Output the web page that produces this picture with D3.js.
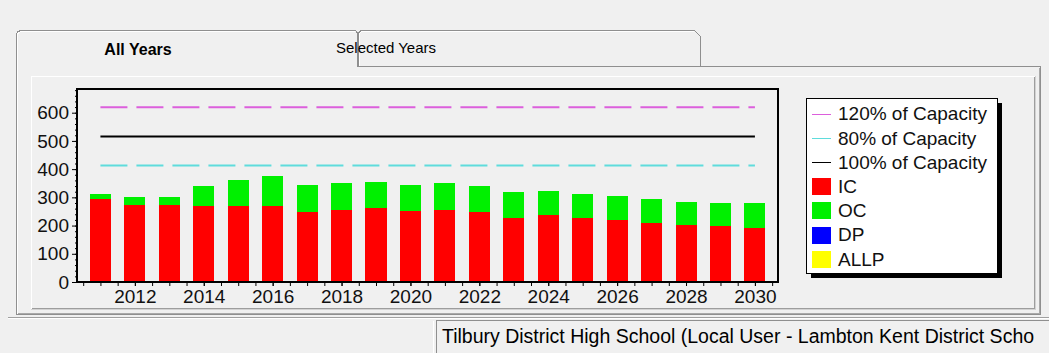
<!DOCTYPE html>
<html>
<head>
<meta charset="utf-8">
<script src="https://cdn.jsdelivr.net/npm/d3@7"></script>
<style>
  html, body { margin: 0; padding: 0; background: #f0f0f0; }
  svg { display: block; font-family: "Liberation Sans", Arial, sans-serif; }
</style>
</head>
<body>
<svg id="chart" width="1049" height="353"></svg>
<script>
// Enrolment projection by year
const years = [2011, 2012, 2013, 2014, 2015, 2016, 2017, 2018, 2019, 2020,
               2021, 2022, 2023, 2024, 2025, 2026, 2027, 2028, 2029, 2030];
const icValues   = [295, 274, 274, 268, 268, 268, 247, 256, 263, 253,
                    256, 247, 226, 236, 226, 219, 208, 203, 198, 193];
const ocValues   = [17, 27, 27, 71, 92, 107, 97, 95, 93, 91,
                    95, 92, 92, 88, 86, 87, 87, 82, 81, 86];
const dpValues   = [0, 0, 0, 0, 0, 0, 0, 0, 0, 0, 0, 0, 0, 0, 0, 0, 0, 0, 0, 0];
const allpValues = [0, 0, 0, 0, 0, 0, 0, 0, 0, 0, 0, 0, 0, 0, 0, 0, 0, 0, 0, 0];
const capacity = 516;
const yTicks = [0, 100, 200, 300, 400, 500, 600];
const xTickYears = [2012, 2014, 2016, 2018, 2020, 2022, 2024, 2026, 2028, 2030];
const tabLabels = ["All Years", "Selected Years"];
const statusText = "Tilbury District High School (Local User - Lambton Kent District Scho";

const seriesKeys = ["IC", "OC", "DP", "ALLP"];
const seriesColors = { IC: "#ff0000", OC: "#00f000", DP: "#0000ff", ALLP: "#ffff00" };
const capLines = [
  { label: "120% of Capacity", value: capacity * 1.2, color: "#dc5fdc", dash: "27,9" },
  { label: "80% of Capacity",  value: capacity * 0.8, color: "#5fdcdc", dash: "27,9" },
  { label: "100% of Capacity", value: capacity,       color: "#000000", dash: null }
];

const rows = years.map((yr, i) => ({
  year: yr, IC: icValues[i], OC: ocValues[i], DP: dpValues[i], ALLP: allpValues[i]
}));

const svg = d3.select("#chart");

// ---- window chrome: tabs, panels, status bar ----
const chrome = svg.append("g").attr("fill", "none").attr("shape-rendering", "crispEdges");

// tab panel body
chrome.append("rect").attr("x", 16.5).attr("y", 66.5).attr("width", 1024).attr("height", 248)
  .attr("fill", "#f0f0f0").attr("stroke", "none");
// panel outer edges
chrome.append("path").attr("d", "M16.5,314.5 V36 Q16.5,30.5 22,30.5 H355.5 L357.5,33 V66.5 H1040.5 V314.5 Z")
  .attr("stroke", "#8f8f8f");
chrome.append("path").attr("d", "M17.5,313.5 H1039.5 V67.5").attr("stroke", "#a9a9a9");
chrome.append("path").attr("d", "M17.5,313.5 V36 Q17.5,31.5 22,31.5 H354.5").attr("stroke", "#ffffff");
// inactive tab
chrome.append("path").attr("d", "M358.5,66.5 V33 L361,30.5 H694.5 L700.5,36.5 V66.5")
  .attr("stroke", "#8f8f8f").attr("fill", "#f0f0f0");
chrome.append("path").attr("d", "M359.5,66 V33.5 L361.5,31.5 H694").attr("stroke", "#ffffff");
chrome.append("path").attr("d", "M358.5,66.5 H1040.5").attr("stroke", "#8f8f8f");

// inner chart panel (bevelled)
chrome.append("path").attr("d", "M31.5,308.5 V76.5 H1034.5").attr("stroke", "#ffffff");
chrome.append("path").attr("d", "M31.5,308.5 H1034.5 V76.5").attr("stroke", "#9d9d9d");
chrome.append("path").attr("d", "M30.5,309.5 H1035.5 V75.5").attr("stroke", "#d2d2d2");

// status bar
chrome.append("path").attr("d", "M7.5,317.5 H1049").attr("stroke", "#a0a0a0");
chrome.append("path").attr("d", "M7.5,318.5 H1049").attr("stroke", "#ffffff");
chrome.append("path").attr("d", "M436.5,353 V320.5 H1049").attr("stroke", "#8f8f8f");
chrome.append("path").attr("d", "M433.5,353 V320.5").attr("stroke", "#ffffff");

svg.append("text").attr("x", 138).attr("y", 55).attr("text-anchor", "middle")
  .attr("font-size", 16).attr("font-weight", "bold").attr("fill", "#000")
  .text(tabLabels[0]);
svg.append("text").attr("x", 386).attr("y", 53).attr("text-anchor", "middle")
  .attr("font-size", 15).attr("fill", "#000")
  .text(tabLabels[1]);
svg.append("text").attr("x", 442).attr("y", 343)
  .attr("font-size", 19.5).attr("fill", "#000")
  .text(statusText);

// ---- plot ----
const plot = { left: 77, right: 778, top: 89, bottom: 282 };
const x = d3.scaleLinear().domain([2010.32, 2030.67]).range([plot.left, plot.right]);
const y = d3.scaleLinear().domain([0, 684]).range([plot.bottom, plot.top]);
const step = x(2012) - x(2011);
const barW = step * 0.61;

const stack = d3.stack().keys(seriesKeys)(rows);

const barsG = svg.append("g").attr("shape-rendering", "crispEdges");
barsG.selectAll("g.layer").data(stack).join("g")
  .attr("class", "layer")
  .attr("fill", d => seriesColors[d.key])
  .selectAll("rect")
  .data(d => d.filter(p => p[1] > p[0]))
  .join("rect")
  .attr("x", d => x(d.data.year) - barW / 2)
  .attr("width", barW)
  .attr("y", d => y(d[1]))
  .attr("height", d => y(d[0]) - y(d[1]));

// capacity reference lines, spanning first to last year
const line = d3.line().x(d => x(d[0])).y(d => y(d[1]));
svg.append("g").selectAll("path").data(capLines).join("path")
  .attr("d", d => line([[years[0], d.value], [years[years.length - 1], d.value]]))
  .attr("stroke", d => d.color)
  .attr("stroke-width", 2)
  .attr("stroke-dasharray", d => d.dash)
  .attr("fill", "none");

// axes
const yAxis = d3.axisLeft(y).tickValues(yTicks).tickSize(5).tickPadding(3);
const yMinor = d3.axisLeft(y).tickValues(d3.range(0, 681, 20)).tickSize(2).tickFormat("");
const xAxis = d3.axisBottom(x).tickValues(xTickYears).tickSize(4).tickPadding(4).tickFormat(d3.format("d"));
const xMinor = d3.axisBottom(x).tickValues(d3.range(2010.5, 2031, 0.5)).tickSize(4).tickFormat("");

function styleAxis(g) {
  g.select(".domain").remove();
  g.selectAll(".tick line").attr("stroke", "#000");
  g.selectAll(".tick text").attr("font-size", 19).attr("fill", "#111")
    .attr("font-family", "\"Liberation Sans\", Arial, sans-serif");
}
svg.append("g").attr("transform", `translate(${plot.left},0)`).call(yMinor).call(styleAxis);
svg.append("g").attr("transform", `translate(${plot.left},0)`).call(yAxis).call(styleAxis);
svg.append("g").attr("transform", `translate(0,${plot.bottom})`).call(xMinor).call(styleAxis);
svg.append("g").attr("transform", `translate(0,${plot.bottom})`).call(xAxis).call(styleAxis);

// plot frame
svg.append("rect")
  .attr("x", plot.left).attr("y", plot.top)
  .attr("width", plot.right - plot.left).attr("height", plot.bottom - plot.top)
  .attr("fill", "none").attr("stroke", "#000").attr("stroke-width", 2);

// ---- legend ----
const lg = { x: 806, y: 98, w: 191, h: 175, shadow: 5 };
const legend = svg.append("g").attr("shape-rendering", "crispEdges");
legend.append("rect").attr("x", lg.x + lg.shadow).attr("y", lg.y + lg.shadow)
  .attr("width", lg.w).attr("height", lg.h).attr("fill", "#000");
legend.append("rect").attr("x", lg.x + 0.5).attr("y", lg.y + 0.5)
  .attr("width", lg.w).attr("height", lg.h).attr("fill", "#fff").attr("stroke", "#000");

const legendItems = capLines.map(d => ({ label: d.label, color: d.color, kind: "line" }))
  .concat(seriesKeys.map(k => ({ label: k, color: seriesColors[k], kind: "box" })));
const rowY = i => 113.5 + i * 24.2;
const items = legend.selectAll("g.item").data(legendItems).join("g").attr("class", "item");
items.filter(d => d.kind === "line").append("line")
  .attr("x1", 812).attr("x2", 831)
  .attr("y1", (d, i) => Math.round(rowY(i)) + 0.5).attr("y2", (d, i) => Math.round(rowY(i)) + 0.5)
  .attr("stroke", d => d.color);
items.filter(d => d.kind === "box").append("rect")
  .attr("x", 812).attr("width", 19)
  .attr("y", d => rowY(legendItems.indexOf(d)) - 8).attr("height", 17)
  .attr("fill", d => d.color);
items.append("text")
  .attr("x", 838)
  .attr("y", (d, i) => rowY(i))
  .attr("dy", "0.36em")
  .attr("font-size", 19)
  .attr("fill", "#111")
  .text(d => d.label);
</script>
</body>
</html>
